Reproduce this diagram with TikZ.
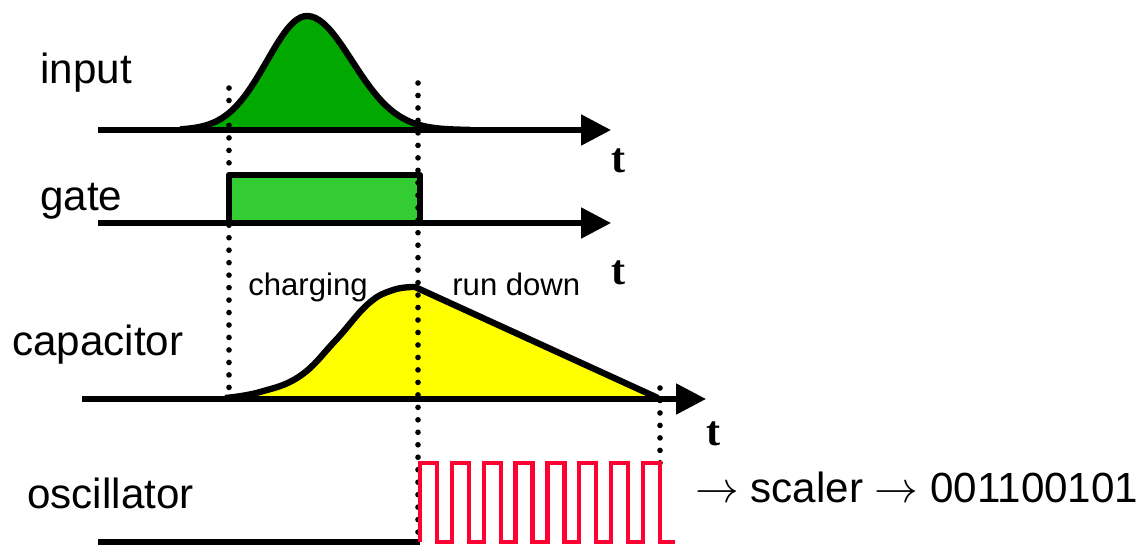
\documentclass[tikz,border=0pt]{standalone}
\usepackage{fontspec}
\setmainfont{Liberation Sans}
\newfontfamily\tfont{Liberation Serif}
\usetikzlibrary{arrows.meta,positioning}

\definecolor{ingreen}{RGB}{0,168,0}
\definecolor{gategreen}{RGB}{51,204,51}
\definecolor{capyellow}{RGB}{255,255,0}
\definecolor{oscred}{RGB}{255,0,51}

\begin{document}
\begin{tikzpicture}[x=0.02cm,y=-0.02cm,
    timeaxis/.style={line width=3pt,-{Triangle[length=17pt,width=17pt]}},
    outline/.style={line width=3.6pt,line join=round},
    marker/.style={line width=3.2pt,line cap=round,dash pattern=on 0pt off 7.1pt},
    sigtext/.style={anchor=base west,inner sep=0pt,font=\fontsize{24}{28}\selectfont},
    phasetext/.style={anchor=base west,inner sep=0pt,font=\fontsize{17.7}{21}\selectfont},
    tmark/.style={anchor=base west,inner sep=0pt,font=\fontsize{24}{28}\selectfont\tfont\bfseries}]
    \useasboundingbox (0,0) rectangle (1146,545);

    % signal names
    \node[sigtext] (input) at (40,83) {input};
    \node[sigtext] (gate) at (40,210) {gate};
    \node[sigtext] (cap) at (12,355) {capacitor};
    \node[sigtext] (osc) at (27,508) {oscillator};
    \node[phasetext] (charge) at (248,295) {charging};
    \node[phasetext] (rundown) at (452,295) {run down};
    \node[sigtext] (out) at (695,502) {$\rightarrow$ scaler $\rightarrow$ 001100101};

    % time axes
    \coordinate (in0) at (98,130);  \coordinate (in1) at (611,130);
    \coordinate (ga0) at (98,223);  \coordinate (ga1) at (611,223);
    \coordinate (ca0) at (82,399);  \coordinate (ca1) at (706,399);
    \coordinate (os0) at (98,542);  \coordinate (os1) at (420,542);
    \node[tmark] (tin) at (611,172) {t};
    \node[tmark] (tga) at (611,284) {t};
    \node[tmark] (tca) at (706,445) {t};

    % fills
    \fill[ingreen] (180,130)
      -- plot[domain=180:307,samples=40] (\x,{130-114*exp(0-0.5*pow((\x-307)/40,2))})
      -- plot[domain=307:470,samples=40] (\x,{130-114*exp(0-0.5*pow((\x-307)/45,2))}) -- cycle;
    \fill[gategreen] (229,223) rectangle (420,175);
    \fill[capyellow] plot[smooth,tension=0.7] coordinates
      {(225,398) (260,392) (300,376) (335,341) (368,304) (393,290) (415,287)} -- (658,398) -- cycle;

    \draw[timeaxis] (in0) -- (in1);
    \draw[timeaxis] (ga0) -- (ga1);
    \draw[timeaxis] (ca0) -- (ca1);
    \draw[line width=3pt] (os0) -- (os1);

    % outlines
    \draw[outline] plot[domain=180:307,samples=40] (\x,{130-114*exp(0-0.5*pow((\x-307)/40,2))})
      -- plot[domain=307:470,samples=40] (\x,{130-114*exp(0-0.5*pow((\x-307)/45,2))});
    \draw[outline] (229,223) -- (229,175) -- (420,175) -- (420,223);
    \draw[outline] plot[smooth,tension=0.7] coordinates
      {(225,398) (260,392) (300,376) (335,341) (368,304) (393,290) (415,287)} -- (658,398);

    % gate edges
    \draw[marker] (229,88) -- (229,398);
    \draw[marker] (418,83) -- (418,543);
    \draw[marker] (660,388) -- (660,463);

    % oscillator pulses
    \draw[oscred,line width=2.4pt] (os1) foreach \k in {1,...,8} {-- ++(0,-79) -- ++(17,0) -- ++(0,79) -- ++(14.86,0)};
\end{tikzpicture}
\end{document}
